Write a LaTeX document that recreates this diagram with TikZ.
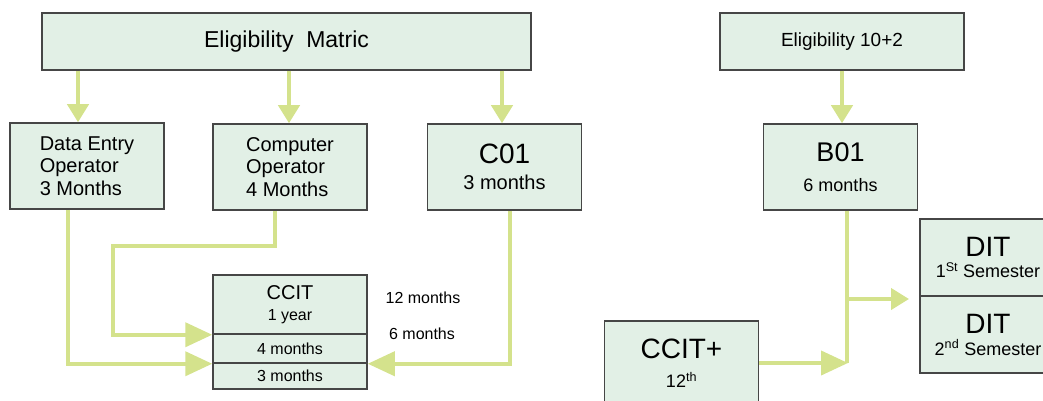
\documentclass[tikz,border=0pt]{standalone}
\usepackage{fontspec}
\setmainfont{Liberation Sans}
\usetikzlibrary{arrows.meta}
\definecolor{boxfill}{RGB}{226,240,230}
\definecolor{boxline}{RGB}{70,70,70}
\definecolor{linkgreen}{RGB}{212,226,140}
\begin{document}
\begin{tikzpicture}[x=1pt, y=-1pt,
        box/.style={draw=boxline, fill=boxfill, line width=1.5pt, inner sep=0pt,
            minimum width=154pt, minimum height=86pt, align=center},
        link/.style={draw=linkgreen, line width=4pt},
        bigarr/.style={link, -{Triangle[length=27pt,width=24pt]}},
        smallarr/.style={link, -{Triangle[length=18pt,width=21pt]}}]
        \clip (0,0) rectangle (1043,401);
        % top row
        \node[box, minimum width=489pt, minimum height=57pt, font=\fontsize{23}{26}\selectfont] (matric) at (286.5, 41.5) {Eligibility\ \ Matric};
        \node[box, minimum width=244pt, minimum height=57pt, font=\fontsize{19}{22}\selectfont] (elig) at (842, 41.5) {Eligibility 10+2};
        % courses
        \node[box, align=left, font=\fontsize{20}{22.5}\selectfont] (dataentry) at (87, 166) {Data Entry\\Operator\\3 Months};
        \node[box, align=left, font=\fontsize{20}{22.5}\selectfont] (compop) at (290, 167) {Computer\\Operator\\4 Months};
        \node[box, font=\fontsize{28}{30}\selectfont] (c01) at (504.5, 167) {C01\\[-4pt]{\fontsize{20}{24}\selectfont 3 months}};
        \node[box, font=\fontsize{27}{30}\selectfont] (b01) at (840.5, 167) {B01\\[0pt]{\fontsize{18}{22}\selectfont 6 months}};
        % CCIT
        \node[box, minimum height=59pt, font=\fontsize{20}{20}\selectfont] (ccit) at (290, 304.5) {CCIT\\[1pt]{\fontsize{16}{18}\selectfont 1 year}};
        \node[box, minimum height=29pt, font=\fontsize{16}{18}\selectfont] (ccitb) at (290, 348.5) {4 months};
        \node[box, minimum height=26pt, font=\fontsize{16}{18}\selectfont] (ccitc) at (290, 376) {3 months};
        \node[font=\fontsize{16}{18}\selectfont] (twelve) at (423, 298) {12 months};
        \node[font=\fontsize{16}{18}\selectfont] (six) at (422, 334) {6 months};
        % DIT and CCIT+
        \node[box, minimum width=136pt, minimum height=77pt, font=\fontsize{28}{28}\selectfont] (dit1) at (988, 257.5) {DIT\\[-7pt]{\fontsize{18}{20}\selectfont 1\textsuperscript{St} Semester}};
        \node[box, minimum width=136pt, minimum height=77pt, font=\fontsize{28}{28}\selectfont] (dit2) at (988, 334.5) {DIT\\[-6pt]{\fontsize{18}{20}\selectfont 2\textsuperscript{nd} Semester}};
        \node[box, minimum height=85pt, font=\fontsize{28}{30}\selectfont] (ccitp) at (681.5, 363.5) {CCIT+\\[-1pt]{\fontsize{18}{20}\selectfont 12\textsuperscript{th}}};
        \coordinate (join) at (847, 363);
        \coordinate (branch) at (847, 299);
        % arrows from the top
        \draw[smallarr] (matric.south -| 78,0) -- (dataentry.north -| 78,0);
        \draw[smallarr] (matric.south -| 289,0) -- (compop.north -| 289,0);
        \draw[smallarr] (matric.south -| 502,0) -- (c01.north -| 502,0);
        \draw[smallarr] (elig.south) -- (b01.north -| elig.south);
        % into CCIT
        \draw[bigarr] (dataentry.south -| 68,0) |- (ccitb.south west);
        \draw[bigarr] (compop.south -| 275,0) -- (275,246) -| (113,300) |- (ccit.south west);
        \draw[bigarr] (c01.south -| 510,0) |- (ccitb.south east);
        % into DIT
        \draw[link] (b01.south -| join) -- (join);
        \draw[smallarr] (branch) -- (branch -| 909,0);
        \draw[bigarr] (ccitp.east |- join) -- ([xshift=1pt]join);
\end{tikzpicture}
\end{document}
